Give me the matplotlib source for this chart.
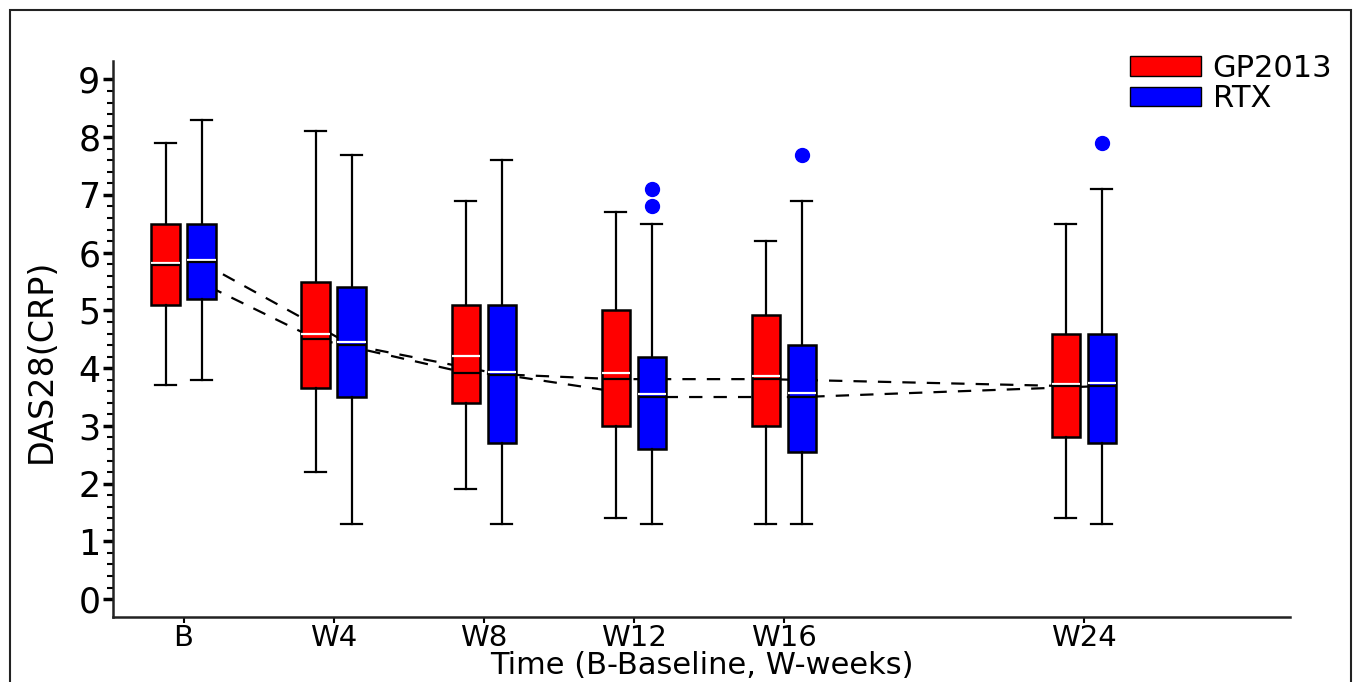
import numpy as np
import matplotlib
matplotlib.use('Agg')
import matplotlib.pyplot as plt
from matplotlib.patches import Rectangle, Patch

# time points (weeks) and labels
weeks = [0, 4, 8, 12, 16, 24]
week_labels = ['B', 'W4', 'W8', 'W12', 'W16', 'W24']

# GP2013 box stats
gp_low = [3.7, 2.2, 1.9, 1.4, 1.3, 1.4]
gp_q1 = [5.1, 3.65, 3.4, 3.0, 3.0, 2.8]
gp_med = [5.82, 4.59, 4.21, 3.92, 3.86, 3.72]
gp_q3 = [6.5, 5.5, 5.1, 5.0, 4.92, 4.6]
gp_high = [7.9, 8.1, 6.9, 6.7, 6.2, 6.5]
gp_mean = [5.78, 4.51, 3.92, 3.81, 3.81, 3.69]
gp_out = [[], [], [], [], [], []]

# RTX box stats
rtx_low = [3.8, 1.3, 1.3, 1.3, 1.3, 1.3]
rtx_q1 = [5.2, 3.5, 2.7, 2.6, 2.55, 2.7]
rtx_med = [5.88, 4.45, 3.94, 3.55, 3.57, 3.74]
rtx_q3 = [6.5, 5.4, 5.1, 4.2, 4.4, 4.6]
rtx_high = [8.3, 7.7, 7.6, 6.5, 6.9, 7.1]
rtx_mean = [5.83, 4.40, 3.89, 3.50, 3.50, 3.69]
rtx_out = [[], [], [], [6.8, 7.1], [7.7], [7.9]]

offset = 0.48
bw = 0.75


def make_stats(low, q1, med, q3, high, mean, out):
    stats = []
    for i in range(len(low)):
        stats.append(dict(whislo=low[i], q1=q1[i], med=med[i], q3=q3[i],
                          whishi=high[i], mean=mean[i], fliers=out[i]))
    return stats


fig = plt.figure(figsize=(13.56, 6.82), dpi=100)
ax = fig.add_axes([113/1356, 1-617/682, (1290-113)/1356, (617-61)/682])

# dashed lines through the means, behind the boxes
pos_gp = np.array(weeks) - offset
pos_rtx = np.array(weeks) + offset
ax.plot(pos_gp, gp_mean, color='black', lw=1.6, dashes=(6, 5), zorder=1)
ax.plot(pos_rtx, rtx_mean, color='black', lw=1.6, dashes=(6, 5), zorder=1)

for stats, pos, col in [(make_stats(gp_low, gp_q1, gp_med, gp_q3, gp_high, gp_mean, gp_out), pos_gp, 'red'),
                        (make_stats(rtx_low, rtx_q1, rtx_med, rtx_q3, rtx_high, rtx_mean, rtx_out), pos_rtx, 'blue')]:
    ax.bxp(stats, positions=pos, widths=bw, patch_artist=True,
           showmeans=True, meanline=True, manage_ticks=False, zorder=2,
           boxprops=dict(facecolor=col, edgecolor='black', lw=1.8),
           whiskerprops=dict(color='black', lw=1.6),
           capprops=dict(color='black', lw=1.6),
           capwidths=0.56,
           medianprops=dict(color='white', lw=1.6),
           meanprops=dict(color='black', lw=1.6, linestyle='-'),
           flierprops=dict(marker='o', markerfacecolor=col, markeredgecolor=col,
                           markersize=10))

ax.set_xlim(-1.88, 29.5)
ax.set_ylim(-0.31, 9.32)
ax.set_xticks(weeks)
ax.set_xticklabels(week_labels)
ax.set_yticks(range(10))
ax.set_yticks(np.arange(0, 9.01, 0.2), minor=True)

for s in ['top', 'right']:
    ax.spines[s].set_visible(False)
for s in ['left', 'bottom']:
    ax.spines[s].set_linewidth(1.8)
    ax.spines[s].set_color('#222222')

ax.tick_params(axis='y', which='major', length=7, width=2.5, labelsize=25, pad=2)
ax.tick_params(axis='y', which='minor', length=4, width=1.5)
ax.tick_params(axis='x', which='major', length=4, width=1.5, labelsize=21, pad=1)

ax.set_xlabel('Time (B-Baseline, W-weeks)', fontsize=22, labelpad=-1)
ax.set_ylabel('DAS28(CRP)', fontsize=24)
ax.yaxis.set_label_coords(-0.047, 0.46)

handles = [Patch(facecolor='red', edgecolor='black', label='GP2013'),
           Patch(facecolor='blue', edgecolor='black', label='RTX')]
ax.legend(handles=handles, loc='upper left', bbox_to_anchor=(1005/1177, 1.035),
          frameon=False, fontsize=22, handlelength=2.3, handleheight=0.6,
          labelspacing=0.05, handletextpad=0.4, borderaxespad=0)

# border around the figure
fig.add_artist(Rectangle((10/1356, -0.05), (1351-10)/1356, 1.05-10/682,
                         transform=fig.transFigure, fill=False,
                         edgecolor='#222222', lw=1.5))

fig.savefig('out.png', dpi=100)
